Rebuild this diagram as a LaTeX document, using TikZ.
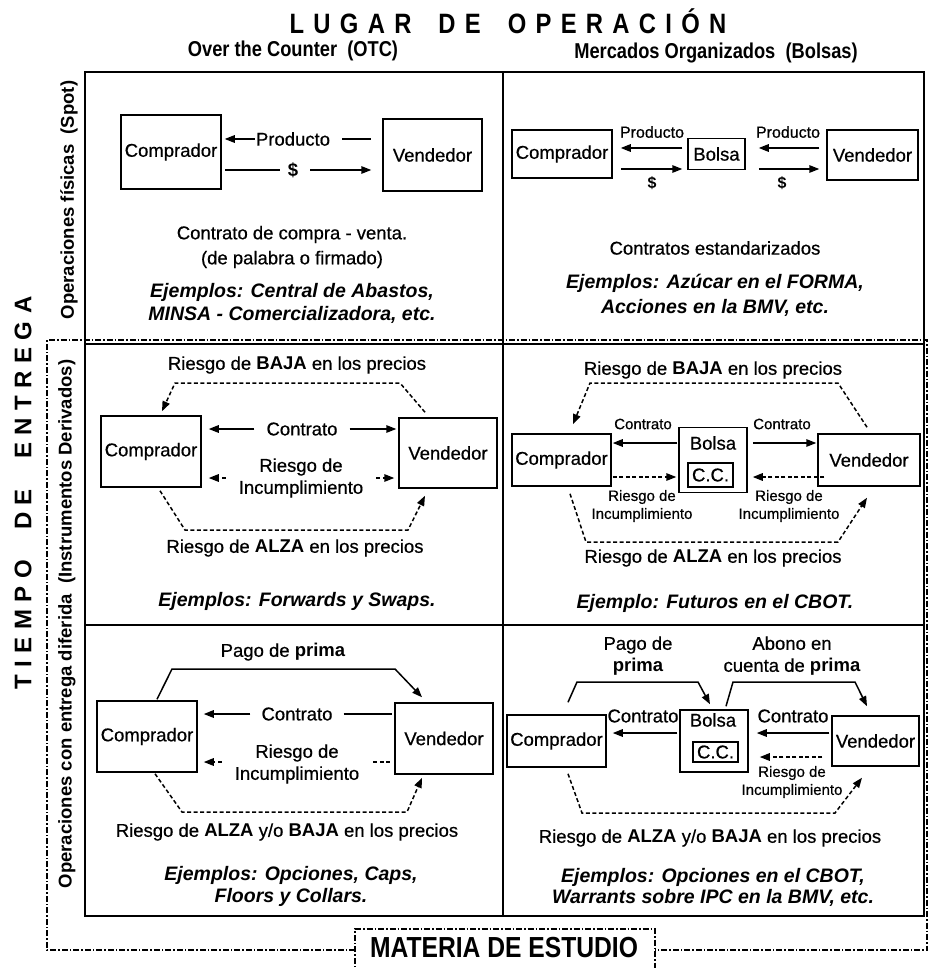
\documentclass[tikz,border=0pt]{standalone}
\usepackage{fontspec}
\setmainfont{Liberation Sans}[UprightFeatures={FakeBold=0.6}]
\newfontfamily\narrowfont[FakeStretch=0.85]{Liberation Sans}
\usetikzlibrary{arrows.meta,calc}
\newcommand\tlsp{\hspace{9.3pt}}
\newcommand\twsp{\hspace{27pt}}
\newcommand\vlsp{\hspace{7.5pt}}
\newcommand\vwsp{\hspace{30pt}}
\begin{document}
\begin{tikzpicture}[x=1pt,y=-1pt,
 every node/.style={inner sep=1pt},
 bx/.style={draw,line width=1.5pt,inner sep=0pt,font=\fontsize{18.5}{22}\selectfont},
 lbl/.style={font=\fontsize{18.5}{22}\selectfont,align=center},
 sml/.style={font=\fontsize{15}{18}\selectfont,align=center},
 ex/.style={font=\fontsize{19.5}{23}\selectfont\bfseries\itshape,align=center},
 hdr/.style={font=\narrowfont\fontsize{21.5}{24}\selectfont\bfseries},
 side/.style={font=\fontsize{18.5}{22}\selectfont\bfseries,rotate=90},
 arr/.style={line width=1.5pt,-{Triangle[length=10pt,width=7.5pt]}},
 ln/.style={line width=1.5pt},
 dsh/.style={dash pattern=on 4pt off 2.5pt},
 gridln/.style={line width=2.4pt},
 dd/.style={line width=1.3pt,dash pattern=on 6pt off 2pt on 1.5pt off 2pt},
]
\useasboundingbox (0,0) rectangle (929,968);

% ---------- titles ----------
\node[font=\narrowfont\fontsize{28}{30}\selectfont\bfseries] (title) at (508,21)
 {L\tlsp U\tlsp G\tlsp A\tlsp R\twsp D\tlsp E\twsp O\tlsp P\tlsp E\tlsp R\tlsp A\tlsp C\tlsp I\tlsp Ó\tlsp N};
\node[hdr] (hotc) at (293,51) {Over the Counter\ \ (OTC)};
\node[hdr] (hmo) at (716,53) {Mercados Organizados\ \ (Bolsas)};

\node[font=\fontsize{24}{26}\selectfont\bfseries,rotate=90] (tiempo) at (23,493)
 {T\vlsp I\vlsp E\vlsp M\vlsp P\vlsp O\vwsp D\vlsp E\vwsp E\vlsp N\vlsp T\vlsp R\vlsp E\vlsp G\vlsp A};
\node[side] (spot) at (69,200) {Operaciones físicas\ \ (Spot)};
\node[side] (dif) at (67,624) {Operaciones con entrega diferida\ \ (Instrumentos Derivados)};

% ---------- grid and frame ----------
\draw[gridln] (85,72) rectangle (924,916);
\draw[gridln] (503,72) -- (503,916);
\draw[gridln] (85,344) -- (924,344);
\draw[gridln] (85,625) -- (924,625);
\draw[dd] (355,950) -- (47,950) -- (47,340) -- (927,340) -- (927,950) -- (655,950);
\draw[dd] (355,975) -- (355,929) -- (655,929) -- (655,975);
\node[font=\narrowfont\fontsize{29}{31}\selectfont\bfseries] (materia) at (504,948) {MATERIA DE ESTUDIO};

% ---------- row 1, OTC ----------
\node[bx,minimum width=100pt,minimum height=74pt] (c1) at (171,152) {Comprador};
\node[bx,minimum width=99pt,minimum height=72pt] (v1) at (432.5,155) {Vendedor};
\node[lbl] (prod1) at (293,139) {Producto};
\node[lbl,font=\fontsize{18.5}{22}\selectfont\bfseries] (dol1) at (293,170) {\$};
\draw[arr,shorten >=3pt] (prod1.west) -- (c1.east |- prod1.west);
\draw[ln,shorten <=11pt,shorten >=11pt] (prod1.east) -- (v1.west |- prod1.east);
\draw[ln,shorten <=7pt,shorten >=3pt] (dol1.west) -- (c1.east |- dol1.west);
\draw[arr,shorten <=11pt,shorten >=11pt] (dol1.east) -- (v1.west |- dol1.east);
\node[lbl,font=\fontsize{18.5}{25}\selectfont] (cv1) at (292,247) {Contrato de compra - venta.\\(de palabra o firmado)};
\node[ex] (ex1) at (292,303) {Ejemplos: Central de Abastos,\\MINSA - Comercializadora, etc.};

% ---------- row 1, Bolsas ----------
\node[bx,minimum width=100pt,minimum height=48pt] (c2) at (562,154) {Comprador};
\node[bx,minimum width=57pt,minimum height=31pt] (b2) at (716.5,154) {Bolsa};
\node[bx,minimum width=91pt,minimum height=50pt] (v2) at (872.5,155) {Vendedor};
\draw[arr] ($(b2.west)+(-5,-6)$) -- ($(c2.east)+(8,-6)$);
\draw[arr] ($(c2.east)+(8,15)$) -- ($(b2.west)+(-5,15)$);
\draw[arr] ($(v2.west)+(-7,-7)$) -- ($(b2.east)+(13,-6)$);
\draw[arr] ($(b2.east)+(13,15)$) -- ($(v2.west)+(-7,14)$);
\node[lbl,font=\fontsize{16}{18}\selectfont] (prod2a) at (652,132) {Producto};
\node[lbl,font=\fontsize{16}{18}\selectfont] (prod2b) at (788,132) {Producto};
\node[lbl,font=\fontsize{16}{18}\selectfont\bfseries] (dol2a) at (652,183) {\$};
\node[lbl,font=\fontsize{16}{18}\selectfont\bfseries] (dol2b) at (782,183) {\$};
\node[lbl] (std2) at (715,248) {Contratos estandarizados};
\node[ex,font=\fontsize{19.5}{25}\selectfont\bfseries\itshape] (ex2) at (715,295) {Ejemplos: Azúcar en el FORMA,\\Acciones en la BMV, etc.};

% ---------- row 2, OTC ----------
\node[bx,minimum width=100pt,minimum height=71pt] (c3) at (151,451.5) {Comprador};
\node[bx,minimum width=98pt,minimum height=70pt] (v3) at (448,453) {Vendedor};
\node[lbl] (baja3) at (297,365) {Riesgo de \textbf{BAJA} en los precios};
\draw[arr,dsh] ($(v3.north)+(-23,-5)$) -- (400,383) -- (175,383) -- ($(c3.north)+(11,-4)$);
\node[lbl,inner xsep=12pt] (con3) at (302,429) {Contrato};
\draw[arr,shorten >=7pt] (con3.west) -- (c3.east |- con3.west);
\draw[arr,shorten >=2pt] (con3.east) -- (v3.west |- con3.east);
\node[lbl] (ri3) at (301,478) {Riesgo de\\Incumplimiento};
\draw[arr,dsh,shorten <=12pt,shorten >=7pt] (ri3.west) -- (c3.east |- ri3.west);
\draw[arr,dsh,shorten <=12pt,shorten >=4pt] (ri3.east) -- (v3.west |- ri3.east);
\draw[arr,dsh] ($(c3.south)+(9,3)$) -- (185,530) -- (408,530) -- ($(v3.south)+(-23,7)$);
\node[lbl] (alza3) at (295,548) {Riesgo de \textbf{ALZA} en los precios};
\node[ex] (ex3) at (297,601) {Ejemplos: Forwards y Swaps.};

% ---------- row 2, Bolsas ----------
\node[bx,minimum width=99pt,minimum height=52pt] (c4) at (561.5,460) {Comprador};
\node[bx,minimum width=68pt,minimum height=65pt] (b4) at (713,460) {};
\node[lbl] (bl4) at (713,443) {Bolsa};
\node[bx,minimum width=45pt,minimum height=24pt] (cc4) at (710.5,475) {C.C.};
\node[bx,minimum width=102pt,minimum height=52pt] (v4) at (869,460) {Vendedor};
\node[lbl] (baja4) at (713,370) {Riesgo de \textbf{BAJA} en los precios};
\draw[arr,dsh] ($(v4.north)+(-2,-6)$) -- (838,383) -- (590,383) -- ($(c4.north)+(11.5,-9)$);
\node[sml] (con4a) at (643,424) {Contrato};
\node[sml] (con4b) at (782,424) {Contrato};
\draw[arr] ($(b4.west)+(-1,-17)$) -- ($(c4.east)+(1,-17)$);
\draw[arr] ($(b4.east)+(5,-17)$) -- ($(v4.west)+(-1,-17)$);
\draw[arr,dsh] ($(c4.east)+(1,17)$) -- ($(b4.west)+(-2,17)$);
\draw[arr,dsh] ($(v4.west)+(7,17)$) -- ($(b4.east)+(5,17)$);
\node[sml] (ri4a) at (642,506) {Riesgo de\\Incumplimiento};
\node[sml] (ri4b) at (789,506) {Riesgo de\\Incumplimiento};
\draw[arr,dsh] ($(c4.south)+(8.5,7)$) -- (586,542) -- (838,542) -- ($(v4.south)+(-2,11)$);
\node[lbl] (alza4) at (713,558) {Riesgo de \textbf{ALZA} en los precios};
\node[ex] (ex4) at (715,603) {Ejemplo: Futuros en el CBOT.};

% ---------- row 3, OTC ----------
\node[bx,minimum width=100pt,minimum height=71pt] (c5) at (147,736.5) {Comprador};
\node[bx,minimum width=98pt,minimum height=71pt] (v5) at (444,738.5) {Vendedor};
\node[lbl] (pago5) at (283,652) {Pago de \textbf{prima}};
\draw[arr] ($(c5.north)+(10,-1)$) -- (172,669) -- (395,669) -- ($(v5.north)+(-22,-5)$);
\node[lbl,inner xsep=11pt] (con5) at (297,714) {Contrato};
\draw[arr,shorten >=6pt] (con5.west) -- (c5.east |- con5.west);
\draw[ln,shorten >=2pt] (con5.east) -- (v5.west |- con5.east);
\node[lbl] (ri5) at (297,764) {Riesgo de\\Incumplimiento};
\draw[arr,dsh,shorten <=12pt,shorten >=6pt] ($(ri5.west)+(0,-2)$) -- ($(c5.east |- ri5.west)+(0,-2)$);
\draw[ln,dsh,shorten <=13pt,shorten >=2pt] ($(ri5.east)+(0,-2)$) -- ($(v5.west |- ri5.east)+(0,-2)$);
\draw[arr,dsh] ($(c5.south)+(8,1)$) -- (182,812) -- (407,812) -- ($(v5.south)+(-22,3)$);
\node[lbl] (alza5) at (287,832) {Riesgo de \textbf{ALZA} y/o \textbf{BAJA} en los precios};
\node[ex,font=\fontsize{19.5}{22}\selectfont\bfseries\itshape] (ex5) at (291,886) {Ejemplos: Opciones, Caps,\\Floors y Collars.};

% ---------- row 3, Bolsas ----------
\node[bx,minimum width=99pt,minimum height=52pt] (c6) at (556.5,741) {Comprador};
\node[bx,minimum width=68pt,minimum height=62pt] (b6) at (714,741) {};
\node[lbl] (bl6) at (713,720) {Bolsa};
\node[bx,minimum width=45pt,minimum height=20pt] (cc6) at (715.5,752) {C.C.};
\node[bx,minimum width=87pt,minimum height=50pt] (v6) at (875.5,741) {Vendedor};
\node[lbl] (pago6) at (638,656) {Pago de\\\textbf{prima}};
\node[lbl] (abono6) at (792,656) {Abono en\\cuenta de \textbf{prima}};
\draw[arr] ($(c6.north)+(11.5,-12)$) -- (577,682) -- (698,682) -- ($(b6.north)+(-4,-5)$);
\draw[arr] ($(b6.north)+(12,-3)$) -- (733,682) -- (855,682) -- ($(v6.north)+(-8.5,-9)$);
\node[lbl] (con6a) at (643,716) {Contrato};
\node[lbl] (con6b) at (793,716) {Contrato};
\draw[arr] ($(b6.west)+(-2,-8)$) -- ($(c6.east)+(6,-8)$);
\draw[arr] ($(v6.west)+(-2,-8)$) -- ($(b6.east)+(8,-8)$);
\draw[arr,dsh] ($(v6.west)+(-9,16)$) -- ($(b6.east)+(11,16)$);
\node[sml] (ri6) at (792,782) {Riesgo de\\Incumplimiento};
\draw[arr,dsh] ($(c6.south)+(11.5,6)$) -- (582,813) -- (835,813) -- ($(v6.south)+(-13.5,11)$);
\node[lbl] (alza6) at (710,838) {Riesgo de \textbf{ALZA} y/o \textbf{BAJA} en los precios};
\node[ex,font=\fontsize{19.5}{21}\selectfont\bfseries\itshape] (ex6) at (713,887.5) {Ejemplos: Opciones en el CBOT,\\Warrants sobre IPC en la BMV, etc.};
\end{tikzpicture}
\end{document}
